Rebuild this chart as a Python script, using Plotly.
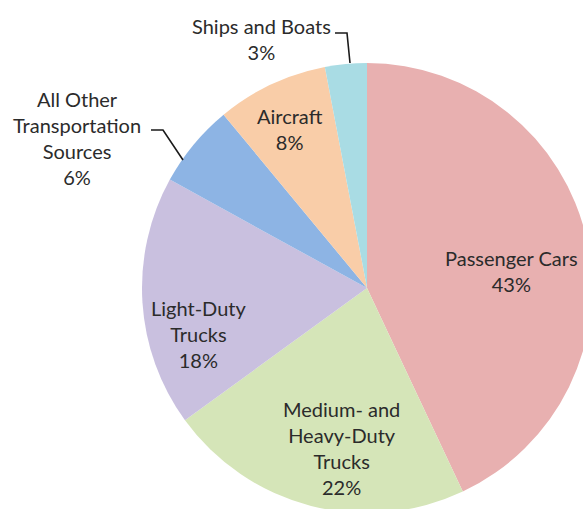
import plotly.graph_objects as go

# Transportation sources and their share of emissions (%)
sources = [
    "Passenger Cars",
    "Medium- and Heavy-Duty Trucks",
    "Light-Duty Trucks",
    "All Other Transportation Sources",
    "Aircraft",
    "Ships and Boats",
]
shares = [43, 22, 18, 6, 8, 3]

# Label text as it is broken over lines
label_lines = [
    ["Passenger Cars"],
    ["Medium- and", "Heavy-Duty", "Trucks"],
    ["Light-Duty", "Trucks"],
    ["All Other", "Transportation", "Sources"],
    ["Aircraft"],
    ["Ships and Boats"],
]

colors = ["#E8B0B0", "#D5E5B8", "#C9C0DF", "#8DB4E4", "#F9CDA8", "#A9DCE4"]

W, H = 600, 522
# pie placement in pixels: centre and radius
CX, CY, R = 367, 288, 225

# label centres in pixels
label_pos = [(511, 271), (342, 448), (198, 334), (77, 138), (290, 129), (261, 39)]

# leader lines for the labels placed outside the pie
leaders = {
    3: [(151, 130), (163, 130), (183, 160)],
    5: [(335, 33), (347, 33), (350, 63)],
}


def px(x):
    return x / W


def py(y):
    return 1 - y / H


fig = go.Figure(
    go.Pie(
        labels=sources,
        values=shares,
        sort=False,
        direction="clockwise",
        rotation=0,
        marker=dict(colors=colors, line=dict(width=0)),
        textinfo="none",
        hoverinfo="label+percent",
        showlegend=False,
        domain=dict(x=[px(CX - R), px(CX + R)], y=[py(CY + R), py(CY - R)]),
    )
)

for i, (name, val) in enumerate(zip(sources, shares)):
    text = "<br>".join(label_lines[i] + [f"{val}%"])
    x, y = label_pos[i]
    fig.add_annotation(
        x=px(x), y=py(y), xref="paper", yref="paper",
        text=text, showarrow=False, xanchor="center", yanchor="middle",
        align="center",
        font=dict(family="Lato", size=20, color="#2b2b2b"),
    )

for pts in leaders.values():
    path = "M " + " L ".join(f"{px(x)},{py(y)}" for x, y in pts)
    fig.add_shape(type="path", path=path, xref="paper", yref="paper",
                  line=dict(color="#1a1a1a", width=1.6))

fig.update_layout(
    width=W, height=H,
    margin=dict(l=0, r=0, t=0, b=0),
    paper_bgcolor="white",
    plot_bgcolor="white",
)

fig.write_html(
    "out.html",
    post_script="document.body.style.margin='0';document.body.style.overflow='hidden';",
)
